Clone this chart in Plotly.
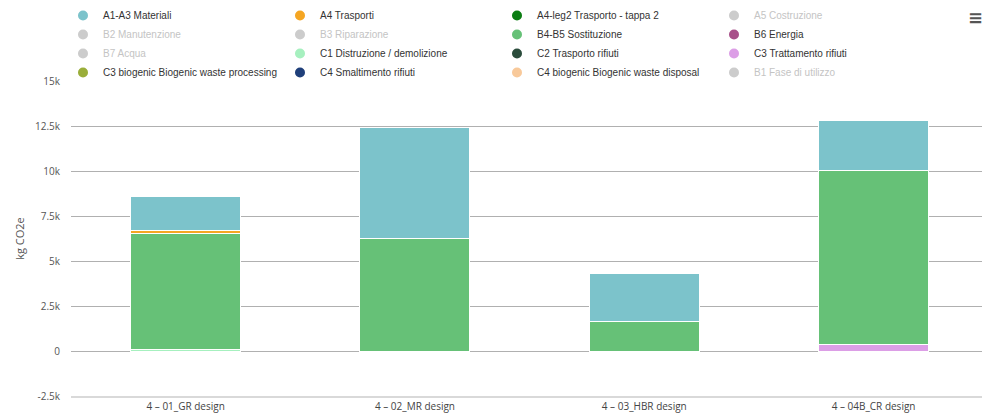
import plotly.graph_objects as go

# ---------------- data ----------------
categories = ["4 – 01_GR design", "4 – 02_MR design", "4 – 03_HBR design", "4 – 04B_CR design"]

# series in the order of the legend (first = top of the stack)
series_names = [
    "A1-A3 Materiali", "A4 Trasporti", "A4-leg2 Trasporto - tappa 2", "A5 Costruzione",
    "B2 Manutenzione", "B3 Riparazione", "B4-B5 Sostituzione", "B6 Energia",
    "B7 Acqua", "C1 Distruzione / demolizione", "C2 Trasporto rifiuti", "C3 Trattamento rifiuti",
    "C3 biogenic Biogenic waste processing", "C4 Smaltimento rifiuti", "C4 biogenic Biogenic waste disposal", "B1 Fase di utilizzo",
]
series_colors = [
    "#7cc3cb", "#f5a623", "#0b7d12", "#cccccc",
    "#cccccc", "#cccccc", "#66c177", "#a8518a",
    "#cccccc", "#a6f0bf", "#2b4c3c", "#dc9ee6",
    "#9aae3a", "#1f3f7a", "#f8c99a", "#cccccc",
]
hidden_series = ["A5 Costruzione", "B2 Manutenzione", "B3 Riparazione", "B7 Acqua", "B1 Fase di utilizzo"]

# values in kg CO2e per category
a1_a3 = [1900, 6200, 2695, 2770]
a4 = [170, 0, 0, 0]
b4_b5 = [6480, 6240, 1615, 9700]
c1 = [60, 0, 0, 0]
c3 = [0, 0, 0, 340]

series_values = {
    "A1-A3 Materiali": a1_a3,
    "A4 Trasporti": a4,
    "B4-B5 Sostituzione": b4_b5,
    "C1 Distruzione / demolizione": c1,
    "C3 Trattamento rifiuti": c3,
}

y_tickvals = [-2500, 0, 2500, 5000, 7500, 10000, 12500, 15000]
y_ticktext = ["-2.5k", "0", "2.5k", "5k", "7.5k", "10k", "12.5k", "15k"]
y_title = "kg CO2e"

# ---------------- figure ----------------
fig = go.Figure()

color_of = dict(zip(series_names, series_colors))

# bars: plotly stacks the first trace at the bottom -> add in reverse legend order
for name in reversed(series_names):
    if name in series_values:
        fig.add_trace(go.Bar(
            x=categories, y=series_values[name], name=name,
            legendgroup=name, showlegend=False,
            marker=dict(color=color_of[name], line=dict(color="#ffffff", width=1)),
            hovertemplate="%{x}<br>" + name + ": %{y}<extra></extra>",
        ))

# legend entries (circle symbols, hidden series greyed out)
for name in series_names:
    hidden = name in hidden_series
    label = f'<span style="color:#c4c4c4">{name}</span>' if hidden else name
    fig.add_trace(go.Scatter(
        x=[None], y=[None], mode="markers", name=label, legendgroup=name,
        marker=dict(symbol="circle", size=10, color=color_of[name]),
        hoverinfo="skip",
    ))

W, H = 982, 413
ml, mr, mt, mb = 71, 0, 81, 17
plot_w = W - ml - mr
plot_h = H - mt - mb

fig.update_layout(
    width=W, height=H,
    margin=dict(l=ml, r=mr, t=mt, b=mb),
    barmode="stack",
    bargap=0.52,
    plot_bgcolor="#ffffff",
    paper_bgcolor="#ffffff",
    font=dict(family="Liberation Sans, Arial, sans-serif", color="#333333", size=10),
    legend=dict(
        orientation="h",
        traceorder="normal",
        x=(63 - ml) / plot_w, xanchor="left",
        y=(plot_h + mt - 1) / plot_h, yanchor="top",
        entrywidth=172, entrywidthmode="pixels",
        font=dict(size=10, color="#333333"),
        itemclick="toggle",
        bgcolor="rgba(0,0,0,0)",
    ),
    xaxis=dict(
        type="category",
        range=[-0.5, -0.5 + plot_w / 229.3],
        showgrid=False,
        showline=True, linecolor="#d9d9d9", linewidth=2,
        ticks="",
        tickfont=dict(family="Open Sans, sans-serif", size=10, color="#444444"),
        fixedrange=True,
    ),
    yaxis=dict(
        range=[-2500, 15000],
        tickvals=y_tickvals, ticktext=y_ticktext,
        showgrid=True, gridcolor="#b0b0b0", gridwidth=1,
        zeroline=True, zerolinecolor="#b0b0b0", zerolinewidth=1,
        showline=False, ticks="",
        ticklabelstandoff=10,
        tickfont=dict(family="Open Sans, sans-serif", size=10, color="#555555"),
        title=dict(text=y_title, font=dict(family="Open Sans, sans-serif", size=11, color="#555555"), standoff=8),
        fixedrange=True,
    ),
    annotations=[dict(
        text="<b>≡</b>", xref="paper", yref="paper",
        x=(975 - ml) / plot_w, y=(plot_h + mt - 17) / plot_h,
        showarrow=False, font=dict(family="DejaVu Sans", size=18, color="#555555"),
        xanchor="center", yanchor="middle",
    )],
)

fig.write_html("out.html")
